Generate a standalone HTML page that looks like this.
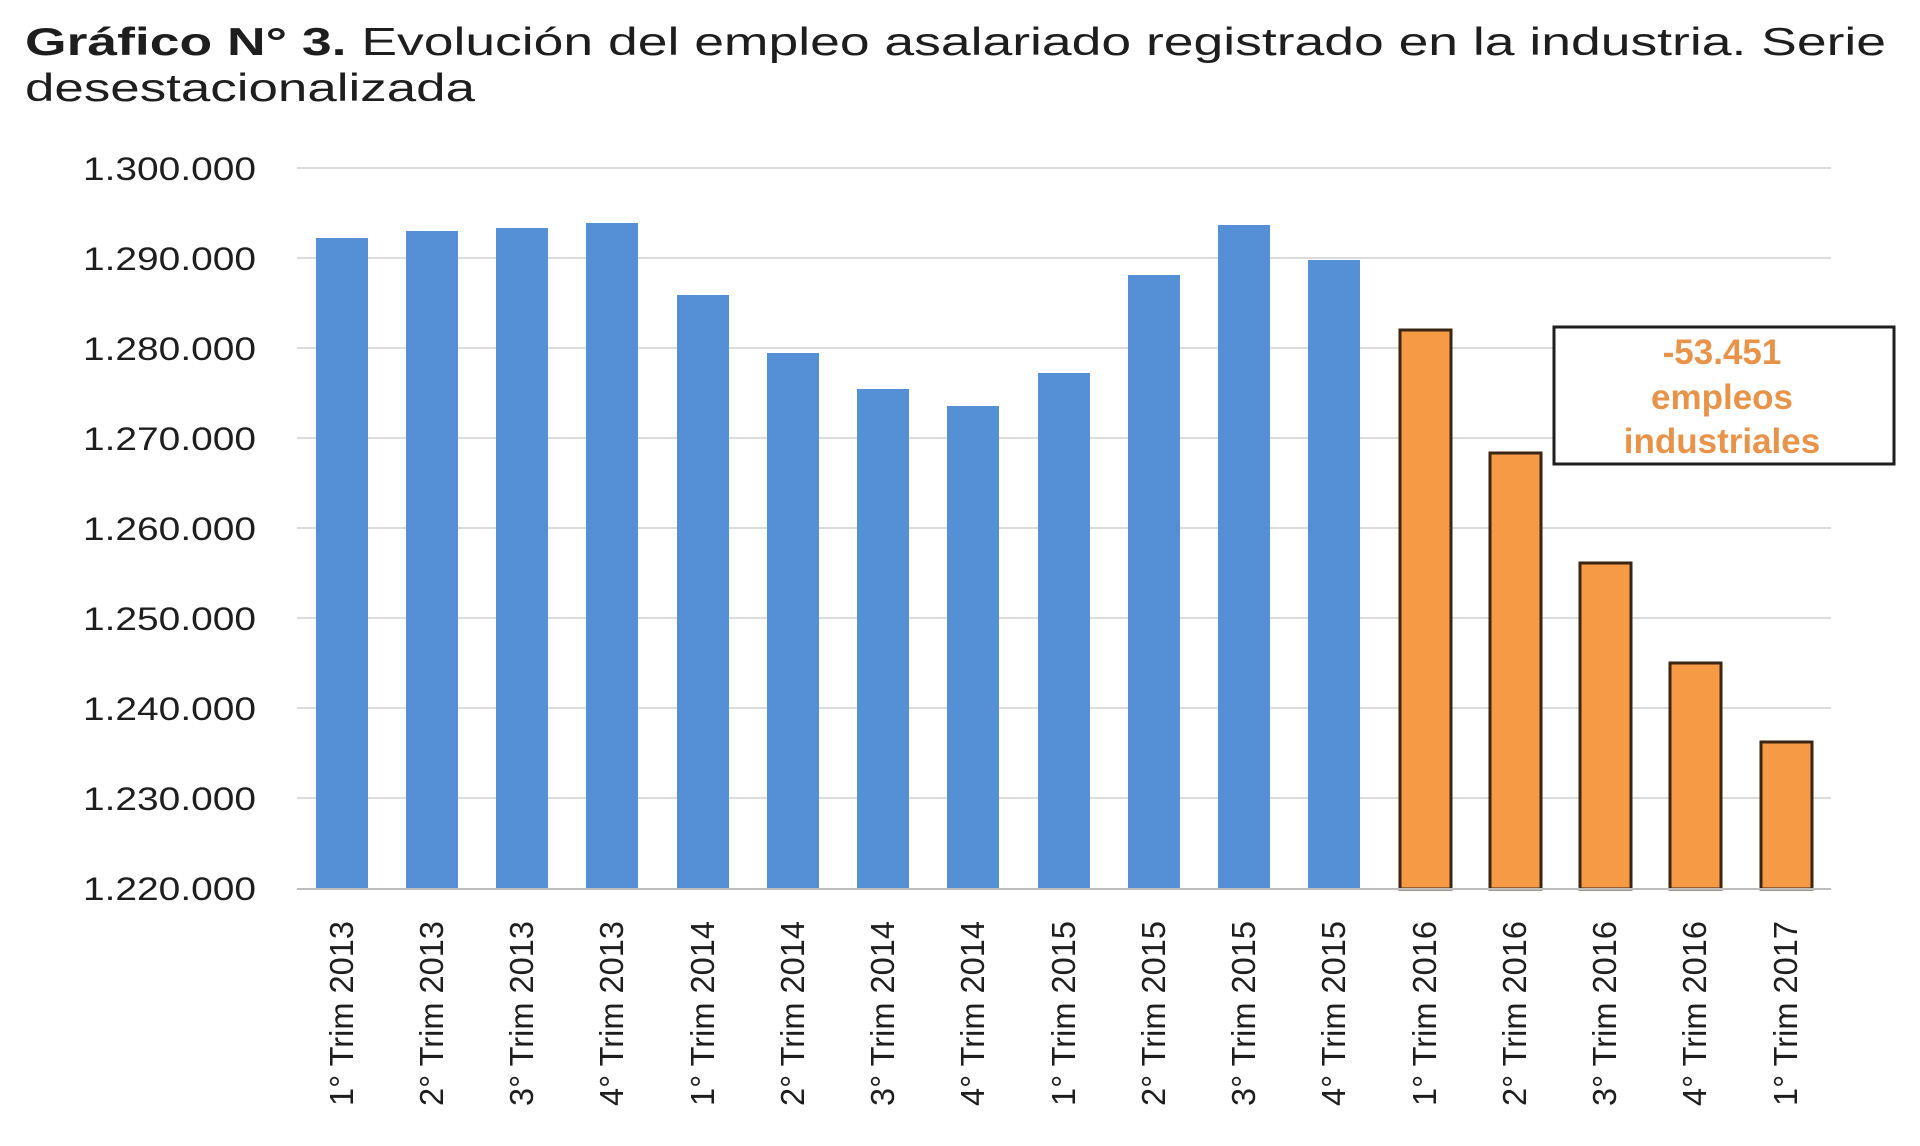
<!DOCTYPE html>
<html><head><meta charset="utf-8"><style>
html,body{margin:0;padding:0;background:#fff;}
svg{display:block;}
text{font-family:"Liberation Sans",Arial,sans-serif;}
</style></head><body>
<svg width="1920" height="1146" viewBox="0 0 1920 1146" xmlns="http://www.w3.org/2000/svg">
<rect width="1920" height="1146" fill="#fff"/>
<text x="25" y="55" font-size="39" fill="#1e1e1e" textLength="1861" lengthAdjust="spacingAndGlyphs"><tspan font-weight="bold">Gráfico N° 3.</tspan> Evolución del empleo asalariado registrado en la industria. Serie</text>
<text x="25" y="101" font-size="39" fill="#1e1e1e" textLength="450" lengthAdjust="spacingAndGlyphs">desestacionalizada</text>
<g stroke="#dcdcdc" stroke-width="2">
<line x1="297" y1="168" x2="1831" y2="168"/>
<line x1="297" y1="258" x2="1831" y2="258"/>
<line x1="297" y1="348" x2="1831" y2="348"/>
<line x1="297" y1="438" x2="1831" y2="438"/>
<line x1="297" y1="528" x2="1831" y2="528"/>
<line x1="297" y1="618" x2="1831" y2="618"/>
<line x1="297" y1="708" x2="1831" y2="708"/>
<line x1="297" y1="798" x2="1831" y2="798"/>
</g>
<g font-size="32" fill="#1e1e1e" text-anchor="end">
<text x="256" y="180" textLength="173" lengthAdjust="spacingAndGlyphs">1.300.000</text>
<text x="256" y="270" textLength="173" lengthAdjust="spacingAndGlyphs">1.290.000</text>
<text x="256" y="360" textLength="173" lengthAdjust="spacingAndGlyphs">1.280.000</text>
<text x="256" y="450" textLength="173" lengthAdjust="spacingAndGlyphs">1.270.000</text>
<text x="256" y="540" textLength="173" lengthAdjust="spacingAndGlyphs">1.260.000</text>
<text x="256" y="630" textLength="173" lengthAdjust="spacingAndGlyphs">1.250.000</text>
<text x="256" y="720" textLength="173" lengthAdjust="spacingAndGlyphs">1.240.000</text>
<text x="256" y="810" textLength="173" lengthAdjust="spacingAndGlyphs">1.230.000</text>
<text x="256" y="900" textLength="173" lengthAdjust="spacingAndGlyphs">1.220.000</text>
</g>
<g fill="#5590d6">
<rect x="316" y="238" width="52" height="651"/>
<rect x="406" y="231" width="52" height="658"/>
<rect x="496" y="228" width="52" height="661"/>
<rect x="586" y="223" width="52" height="666"/>
<rect x="677" y="295" width="52" height="594"/>
<rect x="767" y="353" width="52" height="536"/>
<rect x="857" y="389" width="52" height="500"/>
<rect x="947" y="406" width="52" height="483"/>
<rect x="1038" y="373" width="52" height="516"/>
<rect x="1128" y="275" width="52" height="614"/>
<rect x="1218" y="225" width="52" height="664"/>
<rect x="1308" y="260" width="52" height="629"/>
</g>
<g fill="#f79a46" stroke="#3b2614" stroke-width="3">
<rect x="1400" y="330" width="51" height="559"/>
<rect x="1490" y="453" width="51" height="436"/>
<rect x="1580" y="563" width="51" height="326"/>
<rect x="1670" y="663" width="51" height="226"/>
<rect x="1761" y="742" width="51" height="147"/>
</g>
<line x1="297" y1="889" x2="1831" y2="889" stroke="#bdbdbd" stroke-width="2"/>
<rect x="1554" y="327" width="340" height="137" fill="#fff" stroke="#1e1e1e" stroke-width="3"/>
<g font-size="35" font-weight="bold" fill="#e8934a" text-anchor="middle">
<text x="1722" y="364">-53.451</text>
<text x="1722" y="409">empleos</text>
<text x="1722" y="453">industriales</text>
</g>
<g font-size="33" fill="#1e1e1e" text-anchor="end">
<text transform="translate(353,921) rotate(-90)" textLength="185" lengthAdjust="spacingAndGlyphs">1° Trim 2013</text>
<text transform="translate(443,921) rotate(-90)" textLength="185" lengthAdjust="spacingAndGlyphs">2° Trim 2013</text>
<text transform="translate(533,921) rotate(-90)" textLength="185" lengthAdjust="spacingAndGlyphs">3° Trim 2013</text>
<text transform="translate(623,921) rotate(-90)" textLength="185" lengthAdjust="spacingAndGlyphs">4° Trim 2013</text>
<text transform="translate(714,921) rotate(-90)" textLength="185" lengthAdjust="spacingAndGlyphs">1° Trim 2014</text>
<text transform="translate(804,921) rotate(-90)" textLength="185" lengthAdjust="spacingAndGlyphs">2° Trim 2014</text>
<text transform="translate(894,921) rotate(-90)" textLength="185" lengthAdjust="spacingAndGlyphs">3° Trim 2014</text>
<text transform="translate(984,921) rotate(-90)" textLength="185" lengthAdjust="spacingAndGlyphs">4° Trim 2014</text>
<text transform="translate(1075,921) rotate(-90)" textLength="185" lengthAdjust="spacingAndGlyphs">1° Trim 2015</text>
<text transform="translate(1165,921) rotate(-90)" textLength="185" lengthAdjust="spacingAndGlyphs">2° Trim 2015</text>
<text transform="translate(1255,921) rotate(-90)" textLength="185" lengthAdjust="spacingAndGlyphs">3° Trim 2015</text>
<text transform="translate(1345,921) rotate(-90)" textLength="185" lengthAdjust="spacingAndGlyphs">4° Trim 2015</text>
<text transform="translate(1436,921) rotate(-90)" textLength="185" lengthAdjust="spacingAndGlyphs">1° Trim 2016</text>
<text transform="translate(1526,921) rotate(-90)" textLength="185" lengthAdjust="spacingAndGlyphs">2° Trim 2016</text>
<text transform="translate(1616,921) rotate(-90)" textLength="185" lengthAdjust="spacingAndGlyphs">3° Trim 2016</text>
<text transform="translate(1706,921) rotate(-90)" textLength="185" lengthAdjust="spacingAndGlyphs">4° Trim 2016</text>
<text transform="translate(1797,921) rotate(-90)" textLength="185" lengthAdjust="spacingAndGlyphs">1° Trim 2017</text>
</g>
</svg>
</body></html>
